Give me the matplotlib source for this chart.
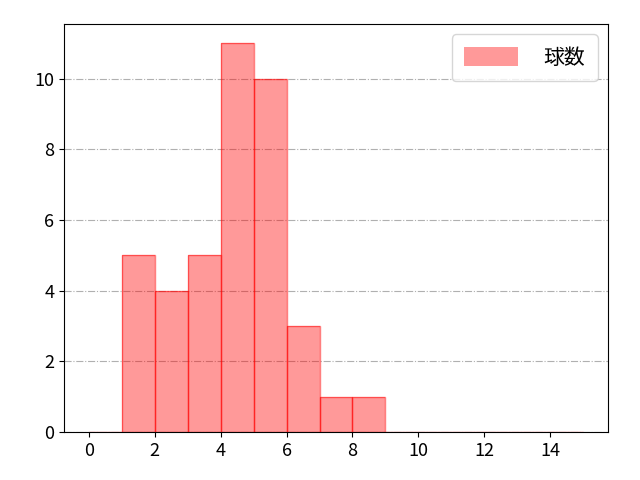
import numpy as np
import matplotlib
matplotlib.use("Agg")
import matplotlib.pyplot as plt

plt.rcParams['font.family'] = ['Noto Sans CJK JP', 'DejaVu Sans']

bin_edges = list(range(0, 16))
bin_left = [1, 2, 3, 4, 5, 6, 7, 8]
counts = [5, 4, 5, 11, 10, 3, 1, 1]
label = "球数"

fig, ax = plt.subplots(figsize=(6.4, 4.8), dpi=100)
ax.hist([x + 0.5 for x in bin_left], bins=bin_edges, weights=counts,
        color='red', alpha=0.4, label=label)
ax.hist([x + 0.5 for x in bin_left], bins=bin_edges, weights=counts,
        histtype='bar', facecolor='none', edgecolor='red', alpha=0.5)
ax.set_xticks(range(0, 15, 2))
ax.yaxis.grid(True, linestyle='-.', color='#b0b0b0')
ax.set_axisbelow(True)
ax.legend(loc='upper right', fontsize=15, handlelength=2.6, handleheight=1.0,
          handletextpad=1.2, borderpad=0.6)
ax.tick_params(labelsize=13)
fig.subplots_adjust(left=0.1, right=0.95, top=0.95, bottom=0.1)
fig.savefig("out.png")
